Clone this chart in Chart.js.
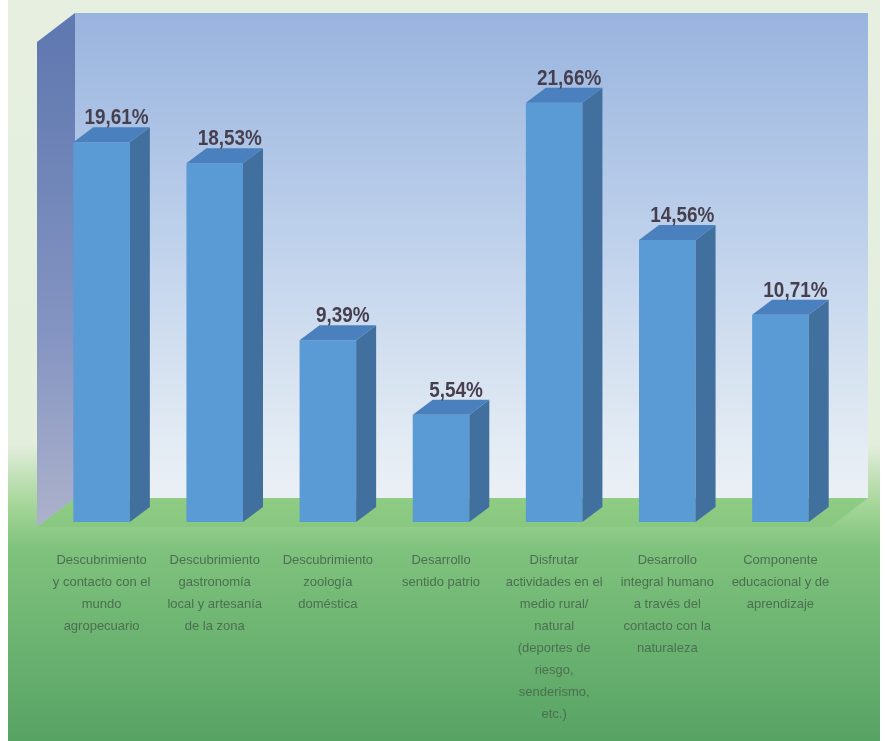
<!DOCTYPE html>
<html>
<head>
<meta charset="utf-8">
<script src="https://cdn.jsdelivr.net/npm/chart.js@4"></script>
<style>
  html, body { margin: 0; padding: 0; background: #ffffff; }
  #wrap { width: 885px; height: 741px; }
</style>
</head>
<body>
<div id="wrap"><canvas id="grafico" width="885" height="741"></canvas></div>
<script>
// motivaciones de la visita (% de respuestas)
const categorias = [
  ['Descubrimiento', 'y contacto con el', 'mundo', 'agropecuario'],
  ['Descubrimiento', 'gastronomía', 'local y artesanía', 'de la zona'],
  ['Descubrimiento', 'zoología', 'doméstica'],
  ['Desarrollo', 'sentido patrio'],
  ['Disfrutar', 'actividades en el', 'medio rural/', 'natural', '(deportes de', 'riesgo,', 'senderismo,', 'etc.)'],
  ['Desarrollo', 'integral humano', 'a través del', 'contacto con la', 'naturaleza'],
  ['Componente', 'educacional y de', 'aprendizaje'],
];
const porcentajes = [19.61, 18.53, 9.39, 5.54, 21.66, 14.56, 10.71];
const ejeMax = 25;

// profundidad de las barras y de las paredes (efecto 3D)
const PROF = { dx: 20, dy: -15 };
const PARED = { dx: 38, dy: -29 };

const colores = {
  frente: '#5b9bd5',
  lado: '#42709e',
  tapa: '#4a80bd',
  valor: '#463f4e',
  etiqueta: '#4b7050',
};

const fmt = v => v.toFixed(2).replace('.', ',') + '%';

// fondo: panel, pared trasera, pared izquierda y piso
const fondo3d = {
  id: 'fondo3d',
  beforeDraw(chart) {
    const { ctx, chartArea: ca, width, height } = chart;
    ctx.save();
    ctx.fillStyle = '#ffffff';
    ctx.fillRect(0, 0, width, height);

    const g = ctx.createLinearGradient(0, 0, 0, height);
    g.addColorStop(0, '#e6efe0');
    g.addColorStop(0.6, '#e3eedd');
    g.addColorStop(0.68, '#a6d699');
    g.addColorStop(0.74, '#7fc27d');
    g.addColorStop(1, '#57a364');
    ctx.fillStyle = g;
    ctx.fillRect(8, 0, width - 13, height);

    const fx = ca.left - 8, fTop = ca.top + 4, fBot = ca.bottom + 5;
    const bx = fx + PARED.dx, bTop = fTop + PARED.dy, bBot = fBot + PARED.dy;
    const bRight = ca.right + 31;

    // pared trasera
    const gw = ctx.createLinearGradient(0, bTop, 0, bBot);
    gw.addColorStop(0, '#99b4de');
    gw.addColorStop(0.45, '#bdd0eb');
    gw.addColorStop(0.85, '#e0e9f3');
    gw.addColorStop(1, '#ebf0f5');
    ctx.fillStyle = gw;
    ctx.fillRect(bx, bTop, bRight - bx, bBot - bTop);

    // piso
    const gp = ctx.createLinearGradient(0, bBot, 0, fBot + 10);
    gp.addColorStop(0, '#8fcc84');
    gp.addColorStop(1, '#86c67f');
    ctx.fillStyle = gp;
    ctx.beginPath();
    ctx.moveTo(bx, bBot);
    ctx.lineTo(bRight, bBot);
    ctx.lineTo(bRight - PARED.dx, fBot);
    ctx.lineTo(fx, fBot);
    ctx.closePath();
    ctx.fill();

    // pared izquierda
    const gl = ctx.createLinearGradient(0, fTop, 0, fBot);
    gl.addColorStop(0, '#6079b0');
    gl.addColorStop(0.6, '#8494c2');
    gl.addColorStop(1, '#adb2cb');
    ctx.fillStyle = gl;
    ctx.beginPath();
    ctx.moveTo(fx, fTop);
    ctx.lineTo(bx, bTop);
    ctx.lineTo(bx, bBot);
    ctx.lineTo(fx, fBot);
    ctx.closePath();
    ctx.fill();
    ctx.restore();
  },
  afterDatasetsDraw(chart) {
    const { ctx } = chart;
    const meta = chart.getDatasetMeta(0);
    ctx.save();
    meta.data.forEach((bar, i) => {
      const { x, y, base, width } = bar.getProps(['x', 'y', 'base', 'width'], true);
      const l = x - width / 2, r = x + width / 2;
      // cara lateral
      ctx.fillStyle = colores.lado;
      ctx.beginPath();
      ctx.moveTo(r, y);
      ctx.lineTo(r + PROF.dx, y + PROF.dy);
      ctx.lineTo(r + PROF.dx, base + PROF.dy);
      ctx.lineTo(r, base);
      ctx.closePath();
      ctx.fill();
      // tapa
      ctx.fillStyle = colores.tapa;
      ctx.beginPath();
      ctx.moveTo(l, y);
      ctx.lineTo(l + PROF.dx, y + PROF.dy);
      ctx.lineTo(r + PROF.dx, y + PROF.dy);
      ctx.lineTo(r, y);
      ctx.closePath();
      ctx.fill();
      // valor, con letra estrechada
      ctx.save();
      ctx.translate(x + PROF.dx / 2 + 5, y + PROF.dy - 3);
      ctx.scale(0.86, 1);
      ctx.fillStyle = colores.valor;
      ctx.font = "bold 22px 'Liberation Sans', sans-serif";
      ctx.textAlign = 'center';
      ctx.textBaseline = 'alphabetic';
      ctx.fillText(fmt(porcentajes[i]), 0, 0);
      ctx.restore();
    });
    ctx.restore();
  },
};

new Chart(document.getElementById('grafico'), {
  type: 'bar',
  data: {
    labels: categorias,
    datasets: [{
      data: porcentajes,
      backgroundColor: colores.frente,
      borderWidth: 0,
      barPercentage: 0.5,
      categoryPercentage: 1,
    }],
  },
  options: {
    responsive: false,
    animation: false,
    layout: { padding: { top: 38, left: 45, right: 48, bottom: 0 } },
    plugins: { legend: { display: false }, tooltip: { enabled: false } },
    scales: {
      x: {
        grid: { display: false, drawTicks: false },
        border: { display: false },
        ticks: {
          color: colores.etiqueta,
          padding: 27,
          maxRotation: 0,
          autoSkip: false,
          font: { family: "'Liberation Sans', sans-serif", size: 13, lineHeight: 22 / 13 },
        },
        afterFit: s => { s.height = 219; },
      },
      y: { display: false, min: 0, max: ejeMax },
    },
  },
  plugins: [fondo3d],
});
</script>
</body>
</html>
